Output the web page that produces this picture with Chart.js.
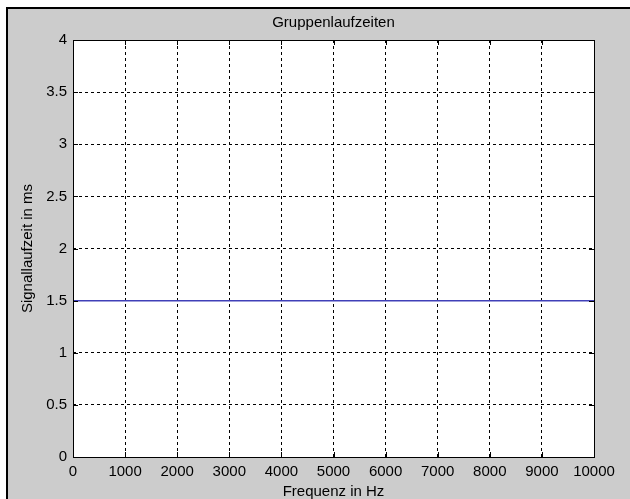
<!DOCTYPE html>
<html>
<head>
<meta charset="utf-8">
<script src="https://cdn.jsdelivr.net/npm/chart.js@4/dist/chart.umd.min.js"></script>
<style>
  html, body { margin: 0; padding: 0; background: #fff; }
  #wrap { width: 630px; height: 499px; }
</style>
</head>
<body>
<div id="wrap"><canvas id="myChart" width="630" height="499"></canvas></div>
<script>
// # ===============================
// # = Daten
// # ===============================
var frequenz = [0, 10000];          // Hz
var laufzeit = [1.5, 1.5];          // ms
var xTicks = [0, 1000, 2000, 3000, 4000, 5000, 6000, 7000, 8000, 9000, 10000];
var yTicks = [0, 0.5, 1, 1.5, 2, 2.5, 3, 3.5, 4];
var titel = 'Gruppenlaufzeiten';
var xLabel = 'Frequenz in Hz';
var yLabel = 'Signallaufzeit in ms';

var schrift = { family: '"Liberation Sans", Arial, sans-serif', size: 15 };

var punkte = frequenz.map(function(f, i) { return { x: f, y: laufzeit[i] }; });

// Hintergrund, Rahmen, Ticks und Titel im MATLAB-Stil
var matlabStil = {
	id: 'matlabStil',
	beforeDraw: function(chart) {
		var ctx = chart.ctx;
		var a = chart.chartArea;
		ctx.save();
		ctx.fillStyle = '#ffffff';
		ctx.fillRect(0, 0, chart.width, chart.height);
		ctx.fillStyle = '#cccccc';
		ctx.fillRect(7, 7, chart.width - 7, chart.height - 7);
		ctx.fillStyle = '#000000';
		ctx.fillRect(6, 7, chart.width - 6, 2);
		ctx.fillRect(6, 7, 2, chart.height - 7);
		ctx.fillStyle = '#ffffff';
		ctx.fillRect(a.left, a.top, a.right - a.left, a.bottom - a.top);
		ctx.restore();
	},
	afterDraw: function(chart) {
		var ctx = chart.ctx;
		var a = chart.chartArea;
		var xs = chart.scales.x, ys = chart.scales.y;
		var len = 5;
		ctx.save();
		ctx.strokeStyle = '#000000';
		ctx.lineWidth = 1;
		ctx.beginPath();
		xTicks.forEach(function(v) {
			var px = Math.round(xs.getPixelForValue(v)) + 0.5;
			ctx.moveTo(px, a.bottom); ctx.lineTo(px, a.bottom - len);
			ctx.moveTo(px, a.top); ctx.lineTo(px, a.top + len);
		});
		yTicks.forEach(function(v) {
			var py = Math.round(ys.getPixelForValue(v)) + 0.5;
			ctx.moveTo(a.left, py); ctx.lineTo(a.left + len, py);
			ctx.moveTo(a.right, py); ctx.lineTo(a.right - len, py);
		});
		ctx.stroke();
		ctx.strokeRect(Math.round(a.left) + 0.5, Math.round(a.top) + 0.5,
			Math.round(a.right - a.left), Math.round(a.bottom - a.top));
		ctx.fillStyle = '#000000';
		ctx.font = schrift.size + 'px ' + schrift.family;
		ctx.textAlign = 'center';
		ctx.textBaseline = 'middle';
		ctx.fillText(titel, (a.left + a.right) / 2, 23);
		ctx.restore();
	}
};

const ctx = document.getElementById('myChart');

new Chart(ctx, {
	type: 'line',
	data: {
		datasets: [{
			label: yLabel,
			data: punkte,
			borderColor: '#4040b8',
			borderWidth: 1.5,
			pointRadius: 0,
			fill: false,
			tension: 0
		}]
	},
	options: {
		responsive: false,
		animation: false,
		layout: { padding: { left: 0, top: 40, right: 36, bottom: 0 } },
		plugins: {
			legend: { display: false },
			tooltip: { enabled: false }
		},
		scales: {
			x: {
				type: 'linear',
				min: 0,
				max: 10000,
				afterBuildTicks: function(scale) {
					scale.ticks = xTicks.map(function(v) { return { value: v }; });
				},
				afterFit: function(scale) { scale.height = 42; },
				ticks: {
					color: '#000000',
					font: schrift,
					padding: 6,
					maxRotation: 0,
					autoSkip: false,
					callback: function(v) { return String(v); }
				},
				grid: { color: '#000000', lineWidth: 1, drawTicks: false },
				border: { display: false, dash: [3, 3] },
				title: {
					display: true,
					text: xLabel,
					color: '#000000',
					font: { family: schrift.family, size: 15, lineHeight: 1 },
					padding: { top: 0, bottom: 0 }
				}
			},
			y: {
				type: 'linear',
				min: 0,
				max: 4,
				afterBuildTicks: function(scale) {
					scale.ticks = yTicks.map(function(v) { return { value: v }; });
				},
				afterFit: function(scale) { scale.width = 73; },
				ticks: {
					color: '#000000',
					font: schrift,
					padding: 6,
					autoSkip: false,
					callback: function(v) { return String(v); }
				},
				grid: { color: '#000000', lineWidth: 1, drawTicks: false },
				border: { display: false, dash: [3, 3] },
				title: {
					display: true,
					text: yLabel,
					color: '#000000',
					font: { family: schrift.family, size: 15, lineHeight: 1 },
					padding: { top: 20, bottom: 0 }
				}
			}
		}
	},
	plugins: [matlabStil]
});
</script>
</body>
</html>
